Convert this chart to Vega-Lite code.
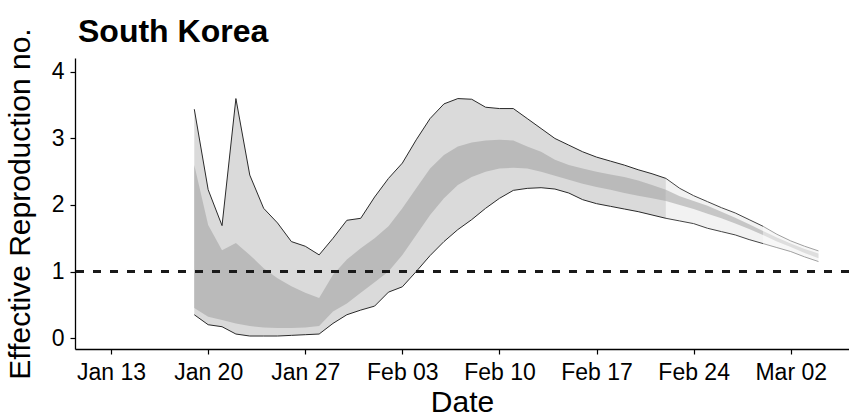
{
  "$schema": "https://vega.github.io/schema/vega-lite/v6.json",
  "width": 774,
  "height": 291,
  "autosize": {"type": "none"},
  "padding": {"left": 75, "top": 58, "right": 0, "bottom": 69},
  "background": "white",
  "title": {"text": "South Korea", "anchor": "start", "frame": "group", "fontSize": 32, "fontWeight": "bold", "font": "Liberation Sans", "color": "black", "offset": 10, "dy": 31, "dx": 3},
  "config": {
    "view": {"stroke": null},
    "axis": {"domainColor": "black", "domainWidth": 1.3, "tickColor": "black", "tickWidth": 1.2, "tickSize": 5, "labelColor": "black", "titleColor": "black", "labelFont": "Liberation Sans", "titleFont": "Liberation Sans", "titleFontWeight": "normal", "grid": false, "labelFontSize": 23, "titleFontSize": 30}
  },
  "data": {"values": [
    {"date": "2020-01-19", "u90": 3.44, "l90": 0.35, "u50": 2.60, "l50": 0.45, "seg": "est"},
    {"date": "2020-01-20", "u90": 2.23, "l90": 0.20, "u50": 1.70, "l50": 0.32, "seg": "est"},
    {"date": "2020-01-21", "u90": 1.69, "l90": 0.17, "u50": 1.32, "l50": 0.27, "seg": "est"},
    {"date": "2020-01-22", "u90": 3.60, "l90": 0.06, "u50": 1.43, "l50": 0.22, "seg": "est"},
    {"date": "2020-01-23", "u90": 2.45, "l90": 0.03, "u50": 1.25, "l50": 0.18, "seg": "est"},
    {"date": "2020-01-24", "u90": 1.95, "l90": 0.03, "u50": 1.05, "l50": 0.16, "seg": "est"},
    {"date": "2020-01-25", "u90": 1.73, "l90": 0.03, "u50": 0.90, "l50": 0.15, "seg": "est"},
    {"date": "2020-01-26", "u90": 1.45, "l90": 0.04, "u50": 0.78, "l50": 0.15, "seg": "est"},
    {"date": "2020-01-27", "u90": 1.38, "l90": 0.05, "u50": 0.68, "l50": 0.16, "seg": "est"},
    {"date": "2020-01-28", "u90": 1.25, "l90": 0.06, "u50": 0.60, "l50": 0.18, "seg": "est"},
    {"date": "2020-01-29", "u90": 1.50, "l90": 0.22, "u50": 0.95, "l50": 0.40, "seg": "est"},
    {"date": "2020-01-30", "u90": 1.77, "l90": 0.35, "u50": 1.18, "l50": 0.52, "seg": "est"},
    {"date": "2020-01-31", "u90": 1.80, "l90": 0.42, "u50": 1.35, "l50": 0.68, "seg": "est"},
    {"date": "2020-02-01", "u90": 2.12, "l90": 0.48, "u50": 1.50, "l50": 0.84, "seg": "est"},
    {"date": "2020-02-02", "u90": 2.40, "l90": 0.69, "u50": 1.68, "l50": 1.00, "seg": "est"},
    {"date": "2020-02-03", "u90": 2.63, "l90": 0.77, "u50": 1.95, "l50": 1.25, "seg": "est"},
    {"date": "2020-02-04", "u90": 2.98, "l90": 1.00, "u50": 2.25, "l50": 1.55, "seg": "est"},
    {"date": "2020-02-05", "u90": 3.30, "l90": 1.24, "u50": 2.55, "l50": 1.85, "seg": "est"},
    {"date": "2020-02-06", "u90": 3.52, "l90": 1.45, "u50": 2.75, "l50": 2.10, "seg": "est"},
    {"date": "2020-02-07", "u90": 3.60, "l90": 1.63, "u50": 2.88, "l50": 2.30, "seg": "est"},
    {"date": "2020-02-08", "u90": 3.59, "l90": 1.78, "u50": 2.94, "l50": 2.42, "seg": "est"},
    {"date": "2020-02-09", "u90": 3.47, "l90": 1.95, "u50": 2.97, "l50": 2.50, "seg": "est"},
    {"date": "2020-02-10", "u90": 3.45, "l90": 2.10, "u50": 2.98, "l50": 2.55, "seg": "est"},
    {"date": "2020-02-11", "u90": 3.45, "l90": 2.22, "u50": 2.97, "l50": 2.56, "seg": "est"},
    {"date": "2020-02-12", "u90": 3.30, "l90": 2.25, "u50": 2.88, "l50": 2.55, "seg": "est"},
    {"date": "2020-02-13", "u90": 3.15, "l90": 2.26, "u50": 2.80, "l50": 2.50, "seg": "est"},
    {"date": "2020-02-14", "u90": 3.00, "l90": 2.24, "u50": 2.68, "l50": 2.44, "seg": "est"},
    {"date": "2020-02-15", "u90": 2.90, "l90": 2.18, "u50": 2.60, "l50": 2.38, "seg": "est"},
    {"date": "2020-02-16", "u90": 2.80, "l90": 2.08, "u50": 2.55, "l50": 2.32, "seg": "est"},
    {"date": "2020-02-17", "u90": 2.72, "l90": 2.02, "u50": 2.50, "l50": 2.27, "seg": "est"},
    {"date": "2020-02-18", "u90": 2.66, "l90": 1.98, "u50": 2.46, "l50": 2.23, "seg": "est"},
    {"date": "2020-02-19", "u90": 2.60, "l90": 1.94, "u50": 2.42, "l50": 2.18, "seg": "est"},
    {"date": "2020-02-20", "u90": 2.53, "l90": 1.90, "u50": 2.37, "l50": 2.14, "seg": "est"},
    {"date": "2020-02-21", "u90": 2.47, "l90": 1.85, "u50": 2.30, "l50": 2.10, "seg": "est"},
    {"date": "2020-02-22", "u90": 2.40, "l90": 1.80, "u50": 2.23, "l50": 2.06, "seg": "est"},
    {"date": "2020-02-22", "u90": 2.40, "l90": 1.80, "u50": 2.23, "l50": 2.06, "seg": "partial"},
    {"date": "2020-02-23", "u90": 2.25, "l90": 1.76, "u50": 2.13, "l50": 2.00, "seg": "partial"},
    {"date": "2020-02-24", "u90": 2.14, "l90": 1.72, "u50": 2.06, "l50": 1.94, "seg": "partial"},
    {"date": "2020-02-25", "u90": 2.05, "l90": 1.65, "u50": 1.99, "l50": 1.87, "seg": "partial"},
    {"date": "2020-02-26", "u90": 1.96, "l90": 1.60, "u50": 1.90, "l50": 1.80, "seg": "partial"},
    {"date": "2020-02-27", "u90": 1.88, "l90": 1.55, "u50": 1.81, "l50": 1.72, "seg": "partial"},
    {"date": "2020-02-28", "u90": 1.78, "l90": 1.48, "u50": 1.71, "l50": 1.64, "seg": "partial"},
    {"date": "2020-02-29", "u90": 1.68, "l90": 1.42, "u50": 1.61, "l50": 1.55, "seg": "partial"},
    {"date": "2020-02-29", "u90": 1.68, "l90": 1.42, "u50": 1.61, "l50": 1.55, "seg": "fc"},
    {"date": "2020-03-01", "u90": 1.56, "l90": 1.36, "u50": 1.51, "l50": 1.45, "seg": "fc"},
    {"date": "2020-03-02", "u90": 1.46, "l90": 1.30, "u50": 1.42, "l50": 1.37, "seg": "fc"},
    {"date": "2020-03-03", "u90": 1.38, "l90": 1.22, "u50": 1.34, "l50": 1.28, "seg": "fc"},
    {"date": "2020-03-04", "u90": 1.31, "l90": 1.15, "u50": 1.27, "l50": 1.20, "seg": "fc"}
  ]},
  "encoding": {
    "x": {
      "field": "date", "type": "temporal",
      "scale": {"type": "utc", "domain": [1578648960000, 1583470080000]},
      "axis": {
        "title": "Date",
        "values": [1578873600000, 1579478400000, 1580083200000, 1580688000000, 1581292800000, 1581897600000, 1582502400000, 1583107200000],
        "labelExpr": "utcFormat(datum.value, '%b %d')",
        "labelFlush": false, "labelPadding": 7, "titlePadding": 3
      }
    }
  },
  "layer": [
    {
      "mark": {"type": "area", "interpolate": "linear"},
      "encoding": {
        "y": {"field": "u90", "type": "quantitative", "scale": {"domain": [-0.165, 4.21], "nice": false, "zero": false},
              "axis": {"title": "Effective Reproduction no.", "values": [0, 1, 2, 3, 4], "format": "d", "labelPadding": 6, "titlePadding": 16}},
        "y2": {"field": "l90"},
        "fill": {"field": "seg", "type": "nominal", "scale": {"domain": ["est", "partial", "fc"], "range": ["#dadada", "#f2f2f2", "#f7f7f7"]}, "legend": null}
      }
    },
    {
      "mark": {"type": "area", "interpolate": "linear"},
      "encoding": {
        "y": {"field": "u50", "type": "quantitative"},
        "y2": {"field": "l50"},
        "fill": {"field": "seg", "type": "nominal", "scale": {"domain": ["est", "partial", "fc"], "range": ["#bababa", "#c6c6c6", "#dedede"]}, "legend": null}
      }
    },
    {
      "mark": {"type": "line", "strokeWidth": 1},
      "encoding": {
        "y": {"field": "u90", "type": "quantitative"},
        "stroke": {"field": "seg", "type": "nominal", "scale": {"domain": ["est", "partial", "fc"], "range": ["#2a2a2a", "#444444", "#a0a0a0"]}, "legend": null}
      }
    },
    {
      "mark": {"type": "line", "strokeWidth": 1},
      "encoding": {
        "y": {"field": "l90", "type": "quantitative"},
        "stroke": {"field": "seg", "type": "nominal", "scale": {"domain": ["est", "partial", "fc"], "range": ["#2a2a2a", "#444444", "#a0a0a0"]}, "legend": null}
      }
    },
    {
      "mark": {"type": "rule", "strokeDash": [8, 9], "strokeWidth": 2, "color": "#1a1a1a"},
      "encoding": {"y": {"datum": 1, "type": "quantitative"}, "x": null}
    }
  ],
  "resolve": {"scale": {"fill": "independent", "stroke": "independent"}}
}
